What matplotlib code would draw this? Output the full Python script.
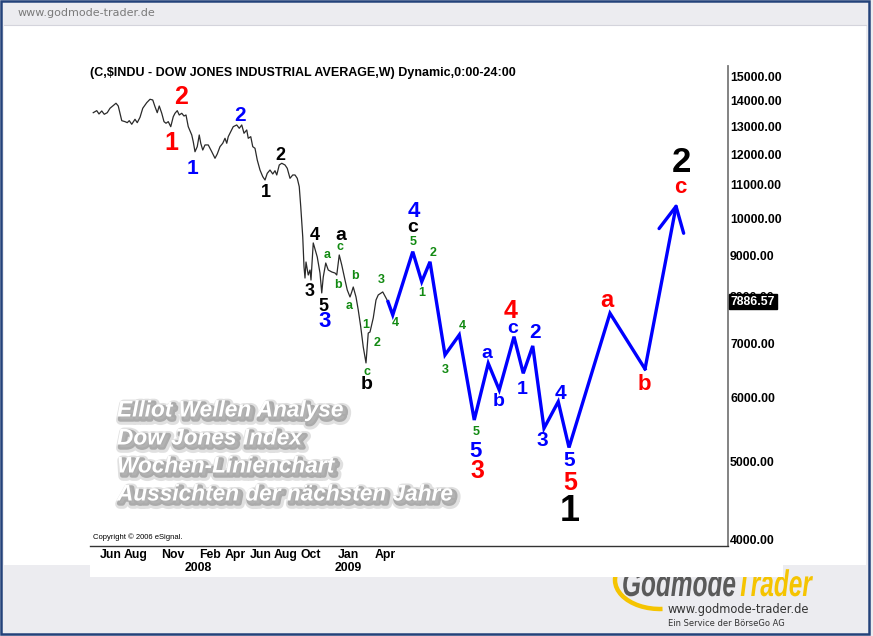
import numpy as np
import matplotlib.pyplot as plt
import matplotlib.patheffects as pe
from matplotlib.patches import Rectangle, Arc, PathPatch
from matplotlib.textpath import TextPath
from matplotlib.font_manager import FontProperties
from matplotlib.transforms import Affine2D
from matplotlib.ticker import FixedLocator, FixedFormatter, NullLocator

plt.rcParams['font.family'] = ['Liberation Sans', 'DejaVu Sans']

# Dow Jones weekly line, x = months since Jan 2007
dow_month = [3.62, 3.90, 4.08, 4.30, 4.50, 4.74, 4.96, 5.44, 5.62, 5.90,
             6.16, 6.34, 6.50, 6.70, 6.96, 7.14, 7.36, 7.58, 7.90, 8.16,
             8.38, 8.56, 8.74, 8.90, 9.10, 9.28, 9.44, 9.62, 9.82, 10.02,
             10.16, 10.34, 10.50, 10.70, 10.88, 11.04, 11.22, 11.50, 11.62, 11.76,
             11.94, 12.10, 12.22, 12.38, 12.56, 12.82, 13.10, 13.36, 13.54, 13.76,
             13.98, 14.16, 14.30, 14.42, 14.62, 14.82, 15.10, 15.30, 15.50, 15.68,
             15.90, 16.02, 16.22, 16.38, 16.56, 16.74, 16.96, 17.18, 17.36, 17.54,
             17.76, 17.98, 18.16, 18.30, 18.50, 18.70, 18.96, 19.14, 19.36, 19.58,
             19.76, 19.94, 20.10, 20.22, 20.38, 20.48, 20.56, 20.64, 20.82, 20.96,
             21.04, 21.22, 21.54, 21.76, 21.90, 22.02, 22.22, 22.42, 22.70, 22.96,
             23.10, 23.30, 23.50, 23.76, 23.94, 24.16, 24.30, 24.42, 24.64, 24.82,
             25.02, 25.22, 25.44, 25.62, 25.76, 26.02, 26.24, 26.42, 26.78, 27.20]
dow_close = [13514, 13592, 13464, 13580, 13452, 13514, 13685, 13882, 13774, 13210,
             13173, 13135, 13210, 13075, 13262, 13135, 13336, 13685, 13906, 14040,
             14012, 13746, 13514, 13774, 13491, 13173, 13113, 13173, 12986, 13359,
             13491, 13592, 13425, 13491, 13386, 13425, 12986, 12682, 12442, 12091,
             12267, 12682, 12386, 12150, 12327, 12327, 12091, 11867, 12013, 12267,
             12386, 12563, 12386, 12621, 12803, 12986, 13049, 12926, 13049, 12744,
             12865, 12563, 12621, 12267, 12209, 11810, 11477, 11262, 11155, 11370,
             11477, 11348, 11454, 11316, 11643, 11700, 11643, 11533, 11209, 11316,
             11316, 11209, 10945, 10339, 9484, 8713, 8437, 8831, 8510, 8632,
             8389, 9324, 8958, 8558, 8086, 8461, 8806, 8632, 8584, 8558,
             8510, 9010, 8756, 8389, 8155, 7994, 8109, 8224, 7994, 7703,
             7339, 6932, 6624, 7213, 7234, 7529, 7925, 8040, 8109, 7886.57]

last_close = 7886.57

# projected Elliott wave path
proj_month = [27.20, 27.58, 29.18, 29.90, 30.56, 31.76, 32.90, 34.10, 35.22, 36.10,
              37.28, 38.02, 38.78, 39.68, 40.82, 41.68, 44.96, 47.76, 50.30]
proj_price = [7886.57, 7594, 9095, 8349, 8837, 6777, 7174, 5630, 6616, 6133,
              7139, 6431, 6953, 5499, 5932, 5206, 7631, 6511, 10457]

month_ticks = [5, 7, 10, 13, 15, 17, 19, 21, 24, 27]
month_labels = ['Jun', 'Aug', 'Nov', 'Feb', 'Apr', 'Jun', 'Aug', 'Oct', 'Jan', 'Apr']
year_ticks = [12, 24]
year_labels = ['2008', '2009']
price_ticks = [4000, 5000, 6000, 7000, 8000, 9000, 10000,
               11000, 12000, 13000, 14000, 15000]

RED, BLUE, BLK, GRN = '#ff0000', '#0000ff', '#000000', '#128a12'

# wave counts: month, price, text, colour, size
waves = [
    (10.64, 14132, '2', RED, 18), (9.84, 12396, '1', RED, 18),
    (34.32, 4869, '3', RED, 18), (37.04, 7681, '4', RED, 18),
    (41.76, 4705, '5', RED, 18), (44.72, 7903, 'a', RED, 17),
    (47.68, 6238, 'b', RED, 16), (50.56, 10904, 'c', RED, 16),
    (15.36, 13388, '2', BLUE, 15), (11.6, 11511, '1', BLUE, 15),
    (22.16, 7444, '3', BLUE, 16), (29.28, 10184, '4', BLUE, 16),
    (34.24, 5154, '5', BLUE, 16), (35.12, 6814, 'a', BLUE, 14),
    (36.08, 5927, 'b', BLUE, 14), (37.2, 7297, 'c', BLUE, 14),
    (37.92, 6150, '1', BLUE, 14), (38.96, 7214, '2', BLUE, 15),
    (39.52, 5304, '3', BLUE, 15), (40.96, 6080, '4', BLUE, 15),
    (41.68, 5010, '5', BLUE, 15),
    (18.56, 11945, '2', BLK, 13), (17.44, 10750, '1', BLK, 13),
    (21.36, 9537, '4', BLK, 13), (20.96, 8108, '3', BLK, 13),
    (22.0, 7769, '5', BLK, 13), (23.44, 9537, 'a', BLK, 14),
    (25.52, 6221, 'b', BLK, 14), (29.2, 9730, 'c', BLK, 14),
    (41.76, 4332, '1', BLK, 26), (50.64, 11709, '2', BLK, 25),
    (22.32, 9010, 'a', GRN, 9), (23.36, 9218, 'c', GRN, 9),
    (23.2, 8272, 'b', GRN, 9), (24.08, 7791, 'a', GRN, 9),
    (24.56, 8486, 'b', GRN, 9), (25.52, 6455, 'c', GRN, 9),
    (25.44, 7380, '1', GRN, 9), (26.32, 7012, '2', GRN, 9),
    (26.64, 8389, '3', GRN, 9), (27.76, 7422, '4', GRN, 9),
    (29.2, 9350, '5', GRN, 9), (29.92, 8085, '1', GRN, 9),
    (30.8, 9061, '2', GRN, 9), (31.76, 6492, '3', GRN, 9),
    (33.12, 7359, '4', GRN, 9), (34.24, 5441, '5', GRN, 9),
]

notes = ['Elliot Wellen Analyse', 'Dow Jones Index',
         'Wochen-Linienchart', 'Aussichten der nächsten Jahre']

W, H = 873, 636
fig = plt.figure(figsize=(W / 100, H / 100), dpi=100)
fig.patch.set_facecolor('#ececf0')

# page frame drawn in pixel coordinates
bg = fig.add_axes([0, 0, 1, 1], zorder=0)
bg.set_xlim(0, W)
bg.set_ylim(H, 0)
bg.axis('off')

# logo, squeezed sideways like the condensed original
logo_font = FontProperties(family='Liberation Sans', weight='bold', style='italic')
x0 = 622
for word, col in [('Godmode', '#5a5a5a'), ('Trader', '#f5c400')]:
    tp = TextPath((0, 0), word, size=37, prop=logo_font)
    tr = Affine2D().scale(0.66, -1).translate(x0, 596)
    bg.add_patch(PathPatch(tr.transform_path(tp), fc=col, ec='none', zorder=0.5))
    x0 += tp.get_extents().x1 * 0.66 + 1
bg.add_patch(Arc((660, 580), 90, 58, theta1=85, theta2=200, color='#f5c400',
                 lw=3.2, zorder=0.6))

bg.add_patch(Rectangle((4, 25), 862, 540, fc='white', ec='none', zorder=1))
bg.add_patch(Rectangle((90, 560), 693, 17, fc='white', ec='none', zorder=1))
bg.plot([4, 866], [25, 25], color='#d4d4dc', lw=0.8, zorder=1)
bg.add_patch(Rectangle((1.2, 1.2), 868, 632.5, fill=False, ec='#23427a', lw=1.8,
                       zorder=2))
bg.text(18, 13, 'www.godmode-trader.de', color='#7a7a7a', fontsize=8,
        family='DejaVu Sans', va='center')
bg.text(668, 609, 'www.godmode-trader.de', color='#333333', fontsize=8.3,
        family='DejaVu Sans', va='center')
bg.text(668, 624, 'Ein Service der BörseGo AG', color='#333333', fontsize=6,
        family='DejaVu Sans', va='center')

# chart
ax = fig.add_axes([90 / W, 90 / H, 638 / W, 480 / H], zorder=2)
ax.patch.set_visible(False)
ax.set_yscale('log')
ax.set_xlim(3.36, 54.4)
ax.set_ylim(3932, 15436)

ax.plot(dow_month, dow_close, color='#2a2a2a', lw=0.9)
ax.plot(proj_month[:-1], proj_price[:-1], color=BLUE, lw=2.4,
        solid_joinstyle='miter')
ax.annotate('', xy=(proj_month[-1], proj_price[-1]),
            xytext=(proj_month[-2], proj_price[-2]),
            arrowprops=dict(arrowstyle='->,head_length=1.0,head_width=0.5',
                            color=BLUE, lw=2.4, shrinkA=0, shrinkB=0,
                            mutation_scale=18))

for m, p, s, c, fs in waves:
    ax.text(m, p, s, color=c, fontsize=fs, weight='bold', ha='center',
            va='center', clip_on=False)

for sp in ['top', 'left']:
    ax.spines[sp].set_visible(False)
ax.spines['right'].set_color('#7a7a7a')
ax.spines['right'].set_linewidth(1.3)
ax.spines['bottom'].set_color('#333333')
ax.spines['bottom'].set_linewidth(1.0)

ax.yaxis.tick_right()
ax.yaxis.set_major_locator(FixedLocator(price_ticks))
ax.yaxis.set_major_formatter(FixedFormatter(['%.2f' % v for v in price_ticks]))
ax.yaxis.set_minor_locator(NullLocator())
ax.tick_params(axis='y', length=0, pad=1.5)
ax.set_xticks(month_ticks)
ax.set_xticklabels(month_labels)
ax.tick_params(axis='x', length=0, pad=2)
for lab in ax.get_xticklabels() + ax.get_yticklabels():
    lab.set_fontweight('bold')
    lab.set_fontsize(8.8)

for m, s in zip(year_ticks, year_labels):
    ax.text(m, -0.046, s, transform=ax.get_xaxis_transform(), ha='center',
            va='center', fontsize=8.8, weight='bold')

ax.annotate('%.2f' % last_close, xy=(1, last_close),
            xycoords=('axes fraction', 'data'), xytext=(2, 0),
            textcoords='offset points', ha='left', va='center', color='white',
            fontsize=8.8, weight='bold', annotation_clip=False,
            bbox=dict(boxstyle='square,pad=0.12', fc='black', ec='black'),
            zorder=5)

ax.text(0.005, 0.019, 'Copyright © 2006 eSignal.', transform=ax.transAxes,
        fontsize=5.5, va='center')

fig.text(90 / W, 1 - 73 / H,
         '(C,\\$INDU - DOW JONES INDUSTRIAL AVERAGE,W) Dynamic,0:00-24:00',
         ha='left', va='center', fontsize=9, weight='bold')

shadow = [pe.Stroke(offset=(2.5, -2.5), linewidth=7, foreground='#9a9a9a', alpha=0.3),
          pe.Stroke(offset=(2, -2), linewidth=3.5, foreground='#808080', alpha=0.55),
          pe.Normal()]
for i, line in enumerate(notes):
    fig.text(117 / W, 1 - (410 + 28 * i) / H, line, color='white', fontsize=16.3,
             style='italic', weight='bold', ha='left', va='center',
             path_effects=shadow, zorder=6)

fig.savefig('out.png', dpi=100, facecolor=fig.get_facecolor())
